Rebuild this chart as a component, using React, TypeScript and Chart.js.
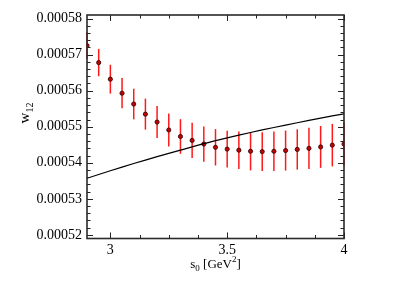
import React, { useEffect, useRef } from "react";
import { Chart, registerables } from "chart.js";

Chart.register(...registerables);

// ---- data ----
const sValues = [2.9, 2.95, 3.0, 3.05, 3.1, 3.15, 3.2, 3.25, 3.3, 3.35, 3.4, 3.45, 3.5, 3.55, 3.6, 3.65, 3.7, 3.75, 3.8, 3.85, 3.9, 3.95, 4.0];
const wValues = [0.0005725, 0.0005678, 0.0005632, 0.0005593, 0.0005563, 0.0005535, 0.0005513, 0.0005491, 0.0005473, 0.0005462, 0.0005452, 0.0005443, 0.0005438, 0.0005435, 0.0005432, 0.0005431, 0.0005432, 0.0005434, 0.0005437, 0.000544, 0.0005444, 0.0005449, 0.0005452];
const wErrors = [3.7e-6, 3.8e-6, 4.0e-6, 4.2e-6, 4.25e-6, 4.3e-6, 4.45e-6, 4.6e-6, 4.8e-6, 4.9e-6, 4.9e-6, 5.05e-6, 5.1e-6, 5.2e-6, 5.3e-6, 5.4e-6, 5.5e-6, 5.55e-6, 5.6e-6, 5.7e-6, 5.8e-6, 5.9e-6, 6.05e-6];
const curveS = [2.9, 3.0, 3.1, 3.2, 3.3, 3.4, 3.5, 3.6, 3.7, 3.8, 3.9, 4.0];
const curveW = [0.0005357, 0.0005378, 0.0005398, 0.0005417, 0.0005435, 0.0005453, 0.0005469, 0.0005484, 0.0005498, 0.0005511, 0.0005524, 0.0005536];
const xTickValues = [3, 3.5, 4];
const xTickLabels = ["3", "3.5", "4"];
const yTickValues = [0.00052, 0.00053, 0.00054, 0.00055, 0.00056, 0.00057, 0.00058];
const yTickLabels = ["0.00052", "0.00053", "0.00054", "0.00055", "0.00056", "0.00057", "0.00058"];

const FONT = "'Liberation Serif', 'Times New Roman', serif";

const errorBarPlugin = {
  id: "errorBars",
  beforeDatasetsDraw(chart: any) {
    const ctx = chart.ctx;
    const xs = chart.scales.x;
    const ys = chart.scales.y;
    ctx.save();
    ctx.strokeStyle = "rgba(255,0,0,0.9)";
    ctx.lineWidth = 1.5;
    for (let i = 0; i < sValues.length; i++) {
      const px = xs.getPixelForValue(sValues[i]);
      const y1 = ys.getPixelForValue(wValues[i] - wErrors[i]);
      const y2 = ys.getPixelForValue(wValues[i] + wErrors[i]);
      ctx.beginPath();
      ctx.moveTo(px, y1);
      ctx.lineTo(px, y2);
      ctx.stroke();
    }
    ctx.restore();
  },
};

const framePlugin = {
  id: "frame",
  afterDraw(chart: any) {
    const ctx = chart.ctx;
    const { left, right, top, bottom } = chart.chartArea;
    const xs = chart.scales.x;
    const ys = chart.scales.y;
    ctx.save();
    ctx.strokeStyle = "#222";
    ctx.lineWidth = 1;
    const xMajorStep = 0.5;
    const xMinorStep = 0.125;
    for (let v = 3 - xMajorStep; v <= 4.0001; v += xMinorStep) {
      if (v < xs.min - 1e-9 || v > xs.max + 1e-9) continue;
      const isMajor = xTickValues.some((t) => Math.abs(t - v) < 1e-6);
      const len = isMajor ? 6 : 3.5;
      const px = Math.round(xs.getPixelForValue(v)) + 0.5;
      ctx.beginPath();
      ctx.moveTo(px, bottom);
      ctx.lineTo(px, bottom - len);
      ctx.moveTo(px, top);
      ctx.lineTo(px, top + len);
      ctx.stroke();
    }
    const yMinorStep = 0.000002;
    for (let k = -5; k <= 35; k++) {
      const v = 0.00052 + k * yMinorStep;
      if (v < ys.min - 1e-12 || v > ys.max + 1e-12) continue;
      const isMajor = k % 5 === 0;
      const len = isMajor ? 6 : 3.5;
      const py = Math.round(ys.getPixelForValue(v)) + 0.5;
      ctx.beginPath();
      ctx.moveTo(left, py);
      ctx.lineTo(left + len, py);
      ctx.moveTo(right, py);
      ctx.lineTo(right - len, py);
      ctx.stroke();
    }
    ctx.lineWidth = 1.6;
    ctx.strokeStyle = "#2a2a2a";
    ctx.strokeRect(left, top, right - left, bottom - top);

    ctx.fillStyle = "#000";
    const cx = (left + right) / 2;
    const base = 268;
    const mainF = "13px " + FONT;
    const subF = "9px " + FONT;
    const parts: [string, string, number][] = [
      ["s", mainF, 0],
      ["0", subF, 3],
      [" [GeV", mainF, 0],
      ["2", subF, -6],
      ["]", mainF, 0],
    ];
    let total = 0;
    for (const [t, f] of parts) {
      ctx.font = f;
      total += ctx.measureText(t).width;
    }
    let x = cx - total / 2;
    ctx.textBaseline = "alphabetic";
    ctx.textAlign = "left";
    for (const [t, f, dy] of parts) {
      ctx.font = f;
      ctx.fillText(t, x, base + dy);
      x += ctx.measureText(t).width;
    }
    ctx.save();
    ctx.translate(29, 113);
    ctx.rotate(-Math.PI / 2);
    const yparts: [string, string, number][] = [
      ["w", "15px " + FONT, 0],
      ["12", "10px " + FONT, 4],
    ];
    let ytot = 0;
    for (const [t, f] of yparts) {
      ctx.font = f;
      ytot += ctx.measureText(t).width;
    }
    let yx = -ytot / 2;
    for (const [t, f, dy] of yparts) {
      ctx.font = f;
      ctx.fillText(t, yx, dy);
      yx += ctx.measureText(t).width;
    }
    ctx.restore();
    ctx.restore();
  },
};

export default function App() {
  const canvasRef = useRef<HTMLCanvasElement | null>(null);
  useEffect(() => {
    if (!canvasRef.current) return;
    const chart = new Chart(canvasRef.current, {
      type: "scatter",
      data: {
        datasets: [
          {
            type: "line",
            label: "curve",
            data: curveS.map((s, i) => ({ x: s, y: curveW[i] })),
            borderColor: "#000",
            borderWidth: 1.2,
            pointRadius: 0,
            tension: 0.3,
            fill: false,
          } as any,
          {
            type: "scatter",
            label: "w12",
            data: sValues.map((s, i) => ({ x: s, y: wValues[i] })),
            backgroundColor: "#c80000",
            borderColor: "#220000",
            borderWidth: 0.8,
            pointRadius: 2.1,
          },
        ],
      },
      options: {
        responsive: false,
        animation: false,
        events: [],
        layout: { padding: { top: 15, right: 59, left: 0, bottom: 0 } },
        plugins: { legend: { display: false }, tooltip: { enabled: false } },
        scales: {
          x: {
            type: "linear",
            min: 2.9,
            max: 4.0,
            grid: { display: false, drawTicks: false },
            border: { display: false },
            afterBuildTicks: (scale: any) => {
              scale.ticks = xTickValues.map((v) => ({ value: v }));
            },
            afterFit: (scale: any) => {
              scale.height = 46.5;
            },
            ticks: {
              padding: 3,
              color: "#000",
              font: { family: FONT, size: 14 },
              callback: (v: any) => {
                const i = xTickValues.findIndex((t) => Math.abs(t - Number(v)) < 1e-9);
                return i >= 0 ? xTickLabels[i] : "";
              },
            },
          },
          y: {
            type: "linear",
            min: 0.000519,
            max: 0.000581,
            grid: { display: false, drawTicks: false },
            border: { display: false },
            afterBuildTicks: (scale: any) => {
              scale.ticks = yTickValues.map((v) => ({ value: v }));
            },
            afterFit: (scale: any) => {
              scale.width = 87;
            },
            ticks: {
              padding: 5,
              color: "#000",
              font: { family: FONT, size: 14 },
              callback: (v: any) => {
                const i = yTickValues.findIndex((t) => Math.abs(t - Number(v)) < 1e-12);
                return i >= 0 ? yTickLabels[i] : "";
              },
            },
          },
        },
      },
      plugins: [errorBarPlugin, framePlugin],
    });
    return () => chart.destroy();
  }, []);
  return (
    <div style={{ position: "absolute", left: 0, top: 0, width: 403, height: 285, background: "#fff" }}>
      <canvas ref={canvasRef} width={403} height={285} style={{ display: "block" }} />
    </div>
  );
}
